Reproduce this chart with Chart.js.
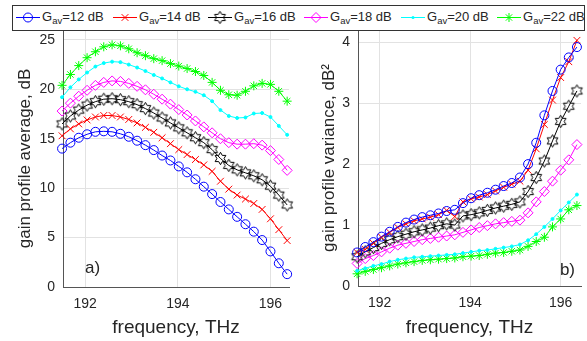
<!DOCTYPE html>
<html>
<head>
<meta charset="utf-8">
<script src="https://cdn.jsdelivr.net/npm/chart.js@4.4.0/dist/chart.umd.min.js"></script>
<style>
  body { margin: 0; background: #fff; }
  #wrap { position: relative; width: 587px; height: 341px; overflow: hidden; font-family: "Liberation Sans", Arial, sans-serif; color: #262626; }
  #left { position: absolute; left: 0; top: 0; }
  #right { position: absolute; left: 295px; top: 0; }
  #legend { position: absolute; left: 12px; top: 5px; width: 573px; height: 26px; border: 1px solid #333; background: #fff; box-sizing: border-box; }
  .item { position: absolute; top: 0; height: 24px; line-height: 22px; font-size: 13px; white-space: nowrap; }
  .item canvas { position: absolute; left: 0; top: 4px; }
  .item span { position: absolute; left: 26px; top: 0; }
  sub { font-size: 9.5px; vertical-align: -3px; line-height: 0; }
</style>
</head>
<body>
<div id="wrap">
  <canvas id="left" width="295" height="341"></canvas>
  <canvas id="right" width="292" height="341"></canvas>
  <div id="legend"></div>
</div>
<script>
// frequency axis, THz
const freq = [191.5, 191.68, 191.86, 192.04, 192.22, 192.4, 192.58, 192.76, 192.94, 193.12,
  193.3, 193.48, 193.66, 193.84, 194.02, 194.2, 194.38, 194.56, 194.74, 194.92,
  195.1, 195.28, 195.46, 195.64, 195.82, 196.0, 196.18, 196.36];

const gains = [12, 14, 16, 18, 20, 22];

// a) gain profile average, dB
const avg12 = [14.0, 14.6, 15.1, 15.45, 15.7, 15.75, 15.7, 15.5, 15.2, 14.8, 14.35, 13.85, 13.3, 12.8, 12.2, 11.6, 10.9, 10.15, 9.4, 8.6, 7.85, 7.1, 6.35, 5.6, 4.75, 3.6, 2.4, 1.3];
const avg14 = [15.3, 16.0, 16.5, 16.9, 17.2, 17.35, 17.35, 17.2, 16.95, 16.6, 16.15, 15.65, 15.1, 14.5, 13.9, 13.4, 12.9, 12.35, 11.7, 10.7, 9.9, 9.3, 8.9, 8.45, 7.85, 6.9, 5.8, 4.7];
const avg16 = [16.5, 17.3, 17.9, 18.4, 18.75, 19.0, 19.05, 18.95, 18.75, 18.45, 18.05, 17.6, 17.1, 16.6, 16.1, 15.6, 15.1, 14.6, 13.9, 13.0, 12.3, 11.85, 11.55, 11.25, 10.85, 10.2, 9.3, 8.3];
const avg18 = [17.8, 18.6, 19.3, 19.9, 20.4, 20.7, 20.85, 20.8, 20.6, 20.3, 19.95, 19.5, 19.0, 18.5, 17.95, 17.4, 16.8, 16.2, 15.6, 15.0, 14.6, 14.45, 14.45, 14.5, 14.35, 13.8, 12.9, 11.8];
const avg20 = [19.2, 20.2, 21.0, 21.7, 22.3, 22.65, 22.8, 22.75, 22.5, 22.2, 21.85, 21.45, 21.1, 20.7, 20.3, 20.0, 19.75, 19.4, 18.8, 17.9, 17.3, 17.1, 17.15, 17.55, 17.6, 17.2, 16.3, 15.4];
const avg22 = [20.4, 21.5, 22.4, 23.2, 23.8, 24.3, 24.5, 24.4, 24.1, 23.7, 23.4, 23.1, 22.9, 22.6, 22.35, 22.1, 21.8, 21.4, 20.7, 19.9, 19.45, 19.4, 19.8, 20.35, 20.6, 20.5, 19.8, 18.8];

// b) gain profile variance, dB^2
const var12 = [0.55, 0.64, 0.72, 0.81, 0.89, 0.97, 1.04, 1.09, 1.13, 1.16, 1.19, 1.23, 1.25, 1.36, 1.44, 1.49, 1.53, 1.58, 1.64, 1.69, 1.78, 2.0, 2.35, 2.8, 3.2, 3.55, 3.75, 3.92];
const var14 = [0.55, 0.6, 0.7, 0.8, 0.88, 0.96, 1.02, 1.07, 1.1, 1.13, 1.17, 1.24, 1.14, 1.38, 1.43, 1.46, 1.5, 1.56, 1.62, 1.67, 1.72, 1.9, 2.25, 2.65, 3.05, 3.42, 3.68, 4.03];
const var16 = [0.48, 0.56, 0.63, 0.7, 0.76, 0.81, 0.85, 0.89, 0.92, 0.95, 0.99, 1.02, 1.0, 1.15, 1.17, 1.2, 1.24, 1.28, 1.31, 1.34, 1.38, 1.55, 1.78, 2.05, 2.38, 2.7, 2.95, 3.2];
const var18 = [0.37, 0.45, 0.5, 0.56, 0.62, 0.67, 0.7, 0.73, 0.76, 0.78, 0.8, 0.82, 0.84, 0.88, 0.92, 0.96, 0.99, 1.02, 1.04, 1.06, 1.08, 1.2, 1.38, 1.55, 1.72, 1.9, 2.07, 2.32];
const var20 = [0.25, 0.29, 0.33, 0.36, 0.4, 0.43, 0.45, 0.47, 0.48, 0.49, 0.5, 0.51, 0.52, 0.54, 0.56, 0.58, 0.59, 0.61, 0.63, 0.65, 0.68, 0.75, 0.85, 0.97, 1.1, 1.24, 1.37, 1.5];
const var22 = [0.2, 0.24, 0.27, 0.3, 0.33, 0.36, 0.38, 0.4, 0.42, 0.43, 0.44, 0.45, 0.46, 0.48, 0.49, 0.5, 0.52, 0.54, 0.55, 0.57, 0.59, 0.65, 0.73, 0.8, 0.97, 1.1, 1.25, 1.32];

const xTicks = [192, 194, 196];
const avgTicks = [0, 5, 10, 15, 20, 25];
const varTicks = [0, 1, 2, 3, 4];

const FONT = "'Liberation Sans', Arial, sans-serif";
const TXT = "#262626";

// MATLAB-like hexagram marker (six-pointed star outline)
function hexagram(color) {
  const c = document.createElement("canvas");
  c.width = 15; c.height = 15;
  const g = c.getContext("2d");
  const R = 6.2, r = R / Math.sqrt(3);
  g.beginPath();
  for (let k = 0; k < 12; k++) {
    const a = -Math.PI / 2 + k * Math.PI / 6;
    const d = k % 2 ? r : R;
    const px = 7.5 + d * Math.cos(a), py = 7.5 + d * Math.sin(a);
    k ? g.lineTo(px, py) : g.moveTo(px, py);
  }
  g.closePath();
  g.strokeStyle = color;
  g.lineWidth = 1;
  g.stroke();
  return c;
}
const hexMark = hexagram("#000");

const looks = [
  { color: "#0000ff", style: "circle", r: 4.5, fill: "rgba(0,0,0,0)" },
  { color: "#ff0000", style: "crossRot", r: 4.8, fill: "rgba(0,0,0,0)" },
  { color: "#000000", style: hexMark, r: 5, fill: "rgba(0,0,0,0)" },
  { color: "#ff00ff", style: "rectRot", r: 5, fill: "rgba(0,0,0,0)" },
  { color: "#00ffff", style: "circle", r: 1.5, fill: "#00ffff" },
  { color: "#00ff00", style: "star", r: 4.5, fill: "rgba(0,0,0,0)" },
];

function makeSets(list) {
  return list.map((vals, i) => ({
    label: "G_av=" + gains[i] + " dB",
    data: freq.map((f, j) => ({ x: f, y: vals[j] })),
    borderColor: looks[i].color,
    borderWidth: 1,
    pointStyle: looks[i].style,
    pointRadius: looks[i].r,
    pointBorderColor: looks[i].color,
    pointBackgroundColor: looks[i].fill,
    pointBorderWidth: 1,
    tension: 0,
    clip: false,
  }));
}

const panelLabel = {
  id: "panelLabel",
  afterDraw(chart, args, opts) {
    const { ctx, chartArea } = chart;
    ctx.save();
    ctx.font = "17px " + FONT;
    ctx.fillStyle = TXT;
    ctx.textBaseline = "middle";
    if (opts.side === "left") {
      ctx.textAlign = "left";
      ctx.fillText(opts.text, chartArea.left + 22, chartArea.bottom - 19);
    } else {
      ctx.textAlign = "right";
      ctx.fillText(opts.text, chartArea.right - 6, chartArea.bottom - 16);
    }
    ctx.restore();
  },
};

function makeChart(id, sets, cfg) {
  return new Chart(document.getElementById(id).getContext("2d"), {
    type: "line",
    data: { datasets: sets },
    plugins: [panelLabel],
    options: {
      responsive: false,
      animation: false,
      layout: { padding: { left: 0, right: cfg.padRight, top: 30, bottom: 0 } },
      plugins: {
        legend: { display: false },
        tooltip: { enabled: false },
        panelLabel: { text: cfg.tag, side: cfg.tagSide },
      },
      scales: {
        x: {
          type: "linear",
          min: 191.52,
          max: cfg.xMax,
          afterBuildTicks: (s) => { s.ticks = xTicks.map((v) => ({ value: v })); },
          afterFit: (s) => { s.height = cfg.xHeight; },
          grid: { color: "#e2e2e2", drawTicks: false },
          border: { color: "#555", width: 1 },
          ticks: { color: TXT, font: { family: FONT, size: 14 }, padding: 9, maxRotation: 0 },
          title: {
            display: true,
            text: "frequency, THz",
            color: TXT,
            font: { family: FONT, size: 19 },
            padding: { top: 0, bottom: 2 },
          },
        },
        y: {
          min: 0,
          max: cfg.yMax,
          afterBuildTicks: (s) => { s.ticks = cfg.yTicks.map((v) => ({ value: v })); },
          afterFit: (s) => { s.width = 63; },
          grid: { color: "#e2e2e2", drawTicks: false },
          border: { color: "#555", width: 1 },
          ticks: { color: TXT, font: { family: FONT, size: 14 }, padding: 8 },
          title: {
            display: true,
            text: cfg.yTitle,
            color: TXT,
            font: { family: FONT, size: 17 },
            padding: { top: cfg.titlePad, bottom: 0 },
          },
        },
      },
    },
  });
}

makeChart("left", makeSets([avg12, avg14, avg16, avg18, avg20, avg22]), {
  xMax: 196.4, xHeight: 54, yMax: 26, yTicks: avgTicks, padRight: 6,
  yTitle: "gain profile average, dB", titlePad: 15, tag: "a)", tagSide: "left",
});

makeChart("right", makeSets([var12, var14, var16, var18, var20, var22]), {
  xMax: 196.45, xHeight: 55, yMax: 4.2, yTicks: varTicks, padRight: 0,
  yTitle: "gain profile variance, dB\u00b2", titlePad: 24, tag: "b)", tagSide: "right",
});

// legend: line + marker drawn on a small canvas, label as html text
function drawMark(g, look, x, y) {
  g.strokeStyle = look.color;
  g.fillStyle = look.color;
  g.lineWidth = 1;
  const r = look.r;
  if (look.style === hexMark) {
    g.drawImage(hexMark, x - 7.5, y - 7.5);
    return;
  }
  g.beginPath();
  if (look.style === "circle") {
    g.arc(x, y, r, 0, Math.PI * 2);
    if (r < 2) { g.fill(); return; }
  } else if (look.style === "crossRot" || look.style === "star") {
    const d = r * Math.SQRT1_2;
    g.moveTo(x - d, y - d); g.lineTo(x + d, y + d);
    g.moveTo(x - d, y + d); g.lineTo(x + d, y - d);
    if (look.style === "star") {
      g.moveTo(x - r, y); g.lineTo(x + r, y);
      g.moveTo(x, y - r); g.lineTo(x, y + r);
    }
  } else if (look.style === "rectRot") {
    g.moveTo(x - r, y); g.lineTo(x, y - r); g.lineTo(x + r, y); g.lineTo(x, y + r);
    g.closePath();
  }
  g.stroke();
}

const legendLeft = [3, 100, 195, 291, 388, 484];
const legend = document.getElementById("legend");
gains.forEach((gv, i) => {
  const item = document.createElement("div");
  item.className = "item";
  item.style.left = legendLeft[i] + "px";
  const c = document.createElement("canvas");
  c.width = 24; c.height = 15;
  const g = c.getContext("2d");
  g.strokeStyle = looks[i].color;
  g.lineWidth = 1;
  g.beginPath(); g.moveTo(0, 7.5); g.lineTo(24, 7.5); g.stroke();
  drawMark(g, looks[i], 12, 7.5);
  item.appendChild(c);
  const s = document.createElement("span");
  s.innerHTML = "G<sub>av</sub>=" + gv + " dB";
  item.appendChild(s);
  legend.appendChild(item);
});
</script>
</body>
</html>
